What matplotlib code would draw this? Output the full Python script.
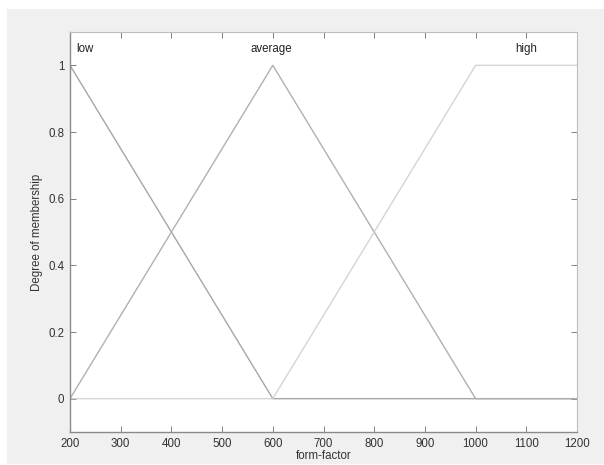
import matplotlib
matplotlib.use('Agg')
import matplotlib.pyplot as plt
from matplotlib.patches import Rectangle

# membership functions (breakpoints)
x_low = [200, 600, 1200]
y_low = [1, 0, 0]
x_avg = [200, 600, 1000, 1200]
y_avg = [0, 1, 0, 0]
x_high = [200, 600, 1000, 1200]
y_high = [0, 0, 1, 1]
mf_names = ['low', 'average', 'high']
label_x = [200, 600, 1100]
x_ticks = [200, 300, 400, 500, 600, 700, 800, 900, 1000, 1100, 1200]
y_ticks = [0, 0.2, 0.4, 0.6, 0.8, 1]

plt.rcParams['font.family'] = ['Liberation Sans', 'DejaVu Sans']
fs = 8.3

fig = plt.figure(figsize=(6.04, 4.65), dpi=100)
fig.patch.set_facecolor('white')
# grey MATLAB figure panel
fig.patches.append(Rectangle((7 / 604, 1 / 465), 597 / 604, 455 / 465,
                             transform=fig.transFigure, facecolor='#f0f0f0',
                             edgecolor='none', zorder=-10))

ax = fig.add_axes([70 / 604, 1 - 432 / 465, 507 / 604, 400 / 465])
ax.set_zorder(1)
ax.set_facecolor('white')

ax.plot(x_low, y_low, color='#a6a6a6', lw=1)
ax.plot(x_avg, y_avg, color='#b0b0b0', lw=1)
ax.plot(x_high, y_high, color='#d4d4d4', lw=1)

ax.text(label_x[0] + 12, 1.05, mf_names[0], ha='left', va='center', fontsize=fs, color='#222222')
ax.text(label_x[1] - 3, 1.05, mf_names[1], ha='center', va='center', fontsize=fs, color='#222222')
ax.text(label_x[2], 1.05, mf_names[2], ha='center', va='center', fontsize=fs, color='#222222')

ax.set_xlim(200, 1200)
ax.set_ylim(-0.1, 1.1)
ax.set_xticks(x_ticks)
ax.set_xticklabels([str(v) for v in x_ticks])
ax.set_yticks(y_ticks)
ax.set_yticklabels(['0', '0.2', '0.4', '0.6', '0.8', '1'])
ax.tick_params(direction='in', length=4, width=0.7, colors='#808080',
               labelcolor='#333333', labelsize=fs, top=True, right=True, pad=4)

for s in ['left', 'bottom']:
    ax.spines[s].set_color('#8a8a8a')
    ax.spines[s].set_linewidth(1)
for s in ['top', 'right']:
    ax.spines[s].set_color('#bdbdbd')
    ax.spines[s].set_linewidth(0.8)

ax.set_xlabel('form-factor', fontsize=fs, color='#333333', labelpad=0)
ax.set_ylabel('Degree of membership', fontsize=fs, color='#333333', labelpad=4)

fig.savefig('out.png', dpi=100)
